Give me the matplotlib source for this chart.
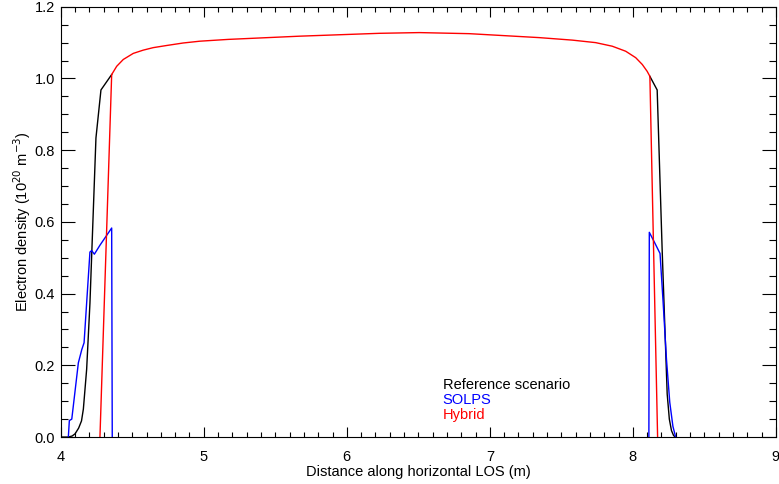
import numpy as np
import matplotlib.pyplot as plt
from matplotlib.ticker import MultipleLocator

plt.rcParams['font.family'] = ['Liberation Sans', 'DejaVu Sans']

# --- Datos ---
# Hybrid (rojo)
x_hyb = [4.274, 4.356, 4.391, 4.437, 4.507, 4.576, 4.646, 4.740, 4.856, 4.972, 5.170,
         5.67, 6.228, 6.507, 6.856, 7.345, 7.577, 7.740, 7.856, 7.950, 8.020, 8.066,
         8.100, 8.119, 8.173]
y_hyb = [0.0, 1.011, 1.034, 1.053, 1.070, 1.079, 1.086, 1.092, 1.099, 1.104, 1.109,
         1.118, 1.126, 1.128, 1.125, 1.114, 1.107, 1.100, 1.090, 1.076, 1.058, 1.039,
         1.020, 1.006, 0.0]

# Reference scenario (negro), fuera del nucleo donde coincide con Hybrid
x_ref_izq = [4.0, 4.053, 4.08, 4.1, 4.125, 4.145, 4.158, 4.181, 4.204, 4.246, 4.281, 4.356]
y_ref_izq = [0.0, 0.0, 0.003, 0.009, 0.025, 0.045, 0.078, 0.189, 0.373, 0.834, 0.968, 1.011]
x_ref_der = [8.119, 8.170, 8.205, 8.240, 8.255, 8.27, 8.285, 8.299]
y_ref_der = [1.006, 0.968, 0.52, 0.12, 0.05, 0.018, 0.004, 0.0]

# SOLPS (azul)
x_sol_izq = [4.053, 4.06, 4.077, 4.123, 4.147, 4.163, 4.204, 4.216, 4.235, 4.274, 4.356, 4.36]
y_sol_izq = [0.0, 0.046, 0.05, 0.207, 0.244, 0.263, 0.516, 0.52, 0.51, 0.535, 0.583, 0.0]
x_sol_der = [8.112, 8.115, 8.150, 8.190, 8.212, 8.235, 8.258, 8.28, 8.299]
y_sol_der = [0.0, 0.571, 0.544, 0.512, 0.373, 0.217, 0.097, 0.03, 0.0]

# --- Figura ---
fig = plt.figure(figsize=(7.79, 4.84), dpi=100)
ax = fig.add_axes([0.078, 0.097, 0.918, 0.889])

lw = 1.0
ax.plot(x_ref_izq, y_ref_izq, color='black', lw=lw)
ax.plot(x_ref_der, y_ref_der, color='black', lw=lw)
ax.plot(x_sol_izq, y_sol_izq, color='blue', lw=lw)
ax.plot(x_sol_der, y_sol_der, color='blue', lw=lw)
ax.plot(x_hyb, y_hyb, color='red', lw=lw)

ax.set_xlim(4, 9)
ax.set_ylim(0, 1.2)
ax.xaxis.set_major_locator(MultipleLocator(1))
ax.xaxis.set_minor_locator(MultipleLocator(0.1))
ax.yaxis.set_major_locator(MultipleLocator(0.2))
ax.yaxis.set_minor_locator(MultipleLocator(0.05))
ax.yaxis.set_major_formatter(plt.FormatStrFormatter('%.1f'))

ax.tick_params(axis='x', which='major', direction='in', length=7, width=0.8,
               top=True, labelsize=10.5, pad=9)
ax.tick_params(axis='x', which='minor', direction='in', length=3.5, width=0.8, top=True)
ax.tick_params(axis='y', which='major', direction='in', length=10, width=0.8,
               right=True, labelsize=10.5, pad=4)
ax.tick_params(axis='y', which='minor', direction='in', length=5, width=0.8, right=True)
for s in ax.spines.values():
    s.set_linewidth(0.8)

ax.set_xlabel('Distance along horizontal LOS (m)', fontsize=10.5, labelpad=1)
ax.set_ylabel('Electron density (10$^{20}$ m$^{-3}$)', fontsize=10.5, labelpad=1)

# leyenda como texto
ax.text(0.534, 0.121, 'Reference scenario', color='black', fontsize=10.5,
        va='center', transform=ax.transAxes)
ax.text(0.534, 0.085, 'SOLPS', color='blue', fontsize=10.5,
        va='center', transform=ax.transAxes)
ax.text(0.534, 0.052, 'Hybrid', color='red', fontsize=10.5,
        va='center', transform=ax.transAxes)

fig.savefig('out.png', dpi=100)
